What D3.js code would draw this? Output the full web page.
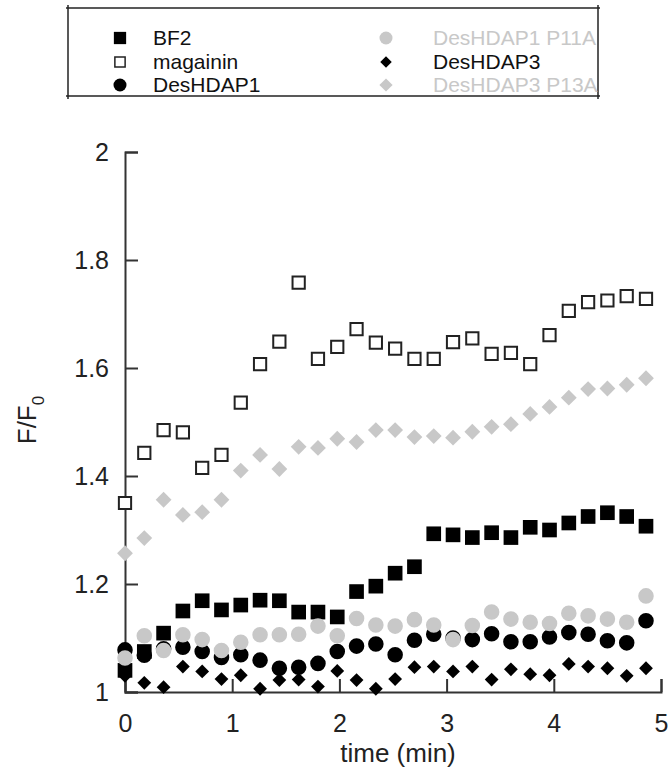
<!DOCTYPE html>
<html>
<head>
<meta charset="utf-8">
<script src="https://cdn.jsdelivr.net/npm/d3@7"></script>
<style>
  body { margin: 0; background: #fff; }
  svg { display: block; font-family: Arial, "Liberation Sans", sans-serif; }
</style>
</head>
<body>
<div id="chart"></div>
<script>
'use strict';

// time points (min)
const times = [0, 0.18, 0.36, 0.54, 0.72, 0.9, 1.08, 1.26, 1.44, 1.62, 1.8, 1.98, 2.16, 2.34,
  2.52, 2.7, 2.88, 3.06, 3.24, 3.42, 3.6, 3.78, 3.96, 4.14, 4.32, 4.5, 4.68, 4.86];

// F/F0 values
const bf2 = [1.04, 1.075, 1.109, 1.15, 1.169, 1.152, 1.161, 1.17, 1.169, 1.148, 1.148, 1.139, 1.186, 1.196,
  1.22, 1.232, 1.293, 1.291, 1.286, 1.295, 1.286, 1.305, 1.3, 1.313, 1.325, 1.332, 1.325, 1.307];
const magainin = [1.35, 1.443, 1.485, 1.481, 1.415, 1.439, 1.536, 1.607, 1.649, 1.758, 1.617, 1.639, 1.672, 1.647,
  1.636, 1.617, 1.617, 1.648, 1.655, 1.626, 1.628, 1.607, 1.661, 1.706, 1.722, 1.725, 1.733, 1.728];
const desHDAP1 = [1.078, 1.068, 1.08, 1.083, 1.075, 1.064, 1.069, 1.059, 1.044, 1.046, 1.053, 1.075, 1.085, 1.089,
  1.069, 1.096, 1.107, 1.1, 1.097, 1.108, 1.093, 1.093, 1.102, 1.11, 1.107, 1.095, 1.091, 1.132];
const desHDAP1P11A = [1.063, 1.104, 1.077, 1.106, 1.097, 1.077, 1.092, 1.106, 1.106, 1.107, 1.122, 1.104, 1.136, 1.124,
  1.122, 1.134, 1.124, 1.097, 1.123, 1.148, 1.135, 1.129, 1.127, 1.146, 1.141, 1.135, 1.129, 1.178];
const desHDAP3 = [1.03, 1.017, 1.009, 1.047, 1.038, 1.024, 1.031, 1.006, 1.022, 1.023, 1.01, 1.039, 1.022, 1.006,
  1.024, 1.046, 1.047, 1.038, 1.047, 1.023, 1.042, 1.033, 1.031, 1.052, 1.047, 1.044, 1.03, 1.044];
const desHDAP3P13A = [1.257, 1.285, 1.356, 1.328, 1.333, 1.356, 1.41, 1.439, 1.413, 1.454, 1.452, 1.469, 1.463, 1.485,
  1.485, 1.472, 1.474, 1.471, 1.482, 1.491, 1.496, 1.515, 1.528, 1.545, 1.561, 1.562, 1.569, 1.581];

const xTicks = [0, 1, 2, 3, 4, 5];
const yTicks = [1, 1.2, 1.4, 1.6, 1.8, 2];

const gray = '#c8c8c8';

// series in draw order (later ones on top); diamonds are rotated squares
const series = [
  { name: 'DesHDAP3', values: desHDAP3, shape: d3.symbolSquare, rot: 45, size: 95, fill: '#000', stroke: 'none' },
  { name: 'DesHDAP1', values: desHDAP1, shape: d3.symbolCircle, rot: 0, size: 190, fill: '#000', stroke: 'none' },
  { name: 'BF2', values: bf2, shape: d3.symbolSquare, rot: 0, size: 215, fill: '#000', stroke: 'none' },
  { name: 'DesHDAP1 P11A', values: desHDAP1P11A, shape: d3.symbolCircle, rot: 0, size: 190, fill: gray, stroke: 'none' },
  { name: 'magainin', values: magainin, shape: d3.symbolSquare, rot: 0, size: 150, fill: '#fff', stroke: '#222' },
  { name: 'DesHDAP3 P13A', values: desHDAP3P13A, shape: d3.symbolSquare, rot: 45, size: 125, fill: gray, stroke: 'none' }
];

// legend order: column by column
const legendCols = [['BF2', 'magainin', 'DesHDAP1'], ['DesHDAP1 P11A', 'DesHDAP3', 'DesHDAP3 P13A']];

const width = 670;
const height = 777;
const margin = { top: 152, right: 9, bottom: 85, left: 125 };

const svg = d3.select('#chart')
  .append('svg')
  .attr('width', width)
  .attr('height', height);

const scaleX = d3.scaleLinear()
  .domain([0, 5])
  .range([margin.left, width - margin.right]);

const scaleY = d3.scaleLinear()
  .domain([1, 2])
  .range([height - margin.bottom, margin.top]);

// axes
const xAxis = d3.axisBottom(scaleX)
  .tickValues(xTicks)
  .tickSize(-13)
  .tickPadding(22)
  .tickFormat(d3.format('d'));

const yAxis = d3.axisLeft(scaleY)
  .tickValues(yTicks)
  .tickSize(-13)
  .tickPadding(16)
  .tickFormat(d => d === 1 || d === 2 ? d3.format('d')(d) : d3.format('.1f')(d));

const gx = svg.append('g')
  .attr('class', 'axisX')
  .attr('transform', `translate(0, ${scaleY(1)})`)
  .call(xAxis);

const gy = svg.append('g')
  .attr('class', 'axisY')
  .attr('transform', `translate(${scaleX(0)}, 0)`)
  .call(yAxis);

[gx, gy].forEach(g => {
  g.select('.domain').attr('stroke', '#333').attr('stroke-width', 2);
  g.selectAll('.tick line').attr('stroke', '#333').attr('stroke-width', 2);
  g.selectAll('.tick text')
    .attr('fill', '#222')
    .style('font-size', '25px')
    .style('font-family', 'Arial, "Liberation Sans", sans-serif');
});

// axis titles
svg.append('text')
  .attr('x', 398)
  .attr('y', 762)
  .attr('text-anchor', 'middle')
  .attr('fill', '#222')
  .style('font-size', '26px')
  .text('time (min)');

const yTitle = svg.append('text')
  .attr('transform', `translate(36, 420) rotate(-90)`)
  .attr('text-anchor', 'middle')
  .attr('fill', '#222')
  .style('font-size', '26px');
yTitle.append('tspan').text('F/F');
yTitle.append('tspan').attr('dy', 8).style('font-size', '17px').text('0');

// points
const symbol = d3.symbol();
series.forEach(s => {
  svg.append('g')
    .attr('class', 'series')
    .selectAll('path')
    .data(s.values)
    .enter()
    .append('path')
    .attr('transform', (d, i) => `translate(${scaleX(times[i])}, ${scaleY(d)}) rotate(${s.rot})`)
    .attr('d', symbol.type(s.shape).size(s.size)())
    .attr('fill', s.fill)
    .attr('stroke', s.stroke)
    .attr('stroke-width', 2);
});

// legend box (lines with small overhangs at the corners)
const box = { x0: 68, x1: 598, y0: 8, y1: 96 };
const legend = svg.append('g').attr('class', 'legend');
const boxLines = [
  [box.x0 - 2, box.y0, box.x1 + 2, box.y0],
  [box.x0 - 2, box.y1, box.x1 + 2, box.y1],
  [box.x0, box.y0 - 3, box.x0, box.y1 + 3],
  [box.x1, box.y0 - 3, box.x1, box.y1 + 3]
];
legend.selectAll('line')
  .data(boxLines)
  .enter()
  .append('line')
  .attr('x1', d => d[0])
  .attr('y1', d => d[1])
  .attr('x2', d => d[2])
  .attr('y2', d => d[3])
  .attr('stroke', '#222')
  .attr('stroke-width', 1.5);

const colX = [120, 386];
const textX = [153, 433];
const rowY = [38, 62, 85];
const legendTextColor = { 'DesHDAP1 P11A': gray, 'DesHDAP3 P13A': gray };

legendCols.forEach((col, ci) => {
  col.forEach((name, ri) => {
    const s = series.find(d => d.name === name);
    legend.append('path')
      .attr('transform', `translate(${colX[ci]}, ${rowY[ri]}) rotate(${s.rot})`)
      .attr('d', symbol.type(s.shape).size(s.size * 0.7)())
      .attr('fill', s.fill)
      .attr('stroke', s.stroke)
      .attr('stroke-width', 1.5);
    legend.append('text')
      .attr('x', textX[ci])
      .attr('y', rowY[ri])
      .attr('dy', '0.35em')
      .attr('fill', legendTextColor[name] || '#111')
      .style('font-size', '21px')
      .text(name);
  });
});
</script>
</body>
</html>
